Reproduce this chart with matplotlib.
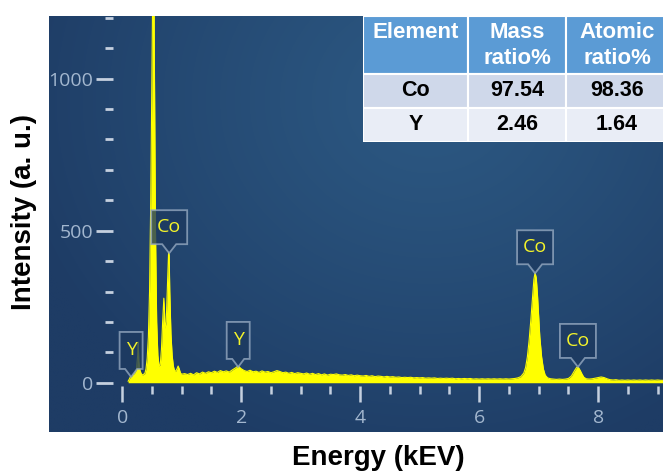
import numpy as np
import matplotlib
matplotlib.use("Agg")
import matplotlib.pyplot as plt
from matplotlib.patches import Polygon, Rectangle
from matplotlib.transforms import ScaledTranslation
from matplotlib.ticker import FixedLocator

# ---------------- data ----------------
energy = [0.10, 0.12, 0.14, 0.16, 0.18, 0.20, 0.22, 0.24, 0.26, 0.27, 0.28, 0.30,
          0.32, 0.34, 0.36, 0.38, 0.40, 0.42, 0.44, 0.46, 0.48, 0.50, 0.52, 0.53,
          0.54, 0.56, 0.58, 0.60, 0.62, 0.64, 0.66, 0.68, 0.70, 0.71, 0.72, 0.74,
          0.76, 0.78, 0.79, 0.80, 0.82, 0.84, 0.86, 0.88, 0.90, 0.92, 0.94, 0.96,
          0.98, 1.00, 1.05, 1.10, 1.15, 1.20, 1.25, 1.30, 1.35, 1.40, 1.45, 1.50,
          1.55, 1.60, 1.65, 1.70, 1.75, 1.80, 1.85, 1.90, 1.95, 2.00, 2.05, 2.10,
          2.15, 2.20, 2.25, 2.30, 2.35, 2.40, 2.45, 2.50, 2.55, 2.60, 2.65, 2.70,
          2.75, 2.80, 2.85, 2.90, 2.95, 3.00, 3.05, 3.10, 3.15, 3.20, 3.25, 3.30,
          3.35, 3.40, 3.45, 3.50, 3.55, 3.60, 3.65, 3.70, 3.75, 3.80, 3.85, 3.90,
          3.95, 4.00, 4.05, 4.10, 4.15, 4.20, 4.25, 4.30, 4.35, 4.40, 4.45, 4.50,
          4.55, 4.60, 4.65, 4.70, 4.75, 4.80, 4.85, 4.90, 4.95, 5.00, 5.05, 5.10,
          5.15, 5.20, 5.25, 5.30, 5.35, 5.40, 5.45, 5.50, 5.55, 5.60, 5.65, 5.70,
          5.75, 5.80, 5.85, 5.90, 5.95, 6.00, 6.05, 6.10, 6.15, 6.20, 6.25, 6.30,
          6.35, 6.40, 6.45, 6.50, 6.55, 6.60, 6.65, 6.70, 6.75, 6.78, 6.81, 6.84,
          6.87, 6.90, 6.92, 6.94, 6.96, 6.98, 7.00, 7.02, 7.05, 7.08, 7.11, 7.15,
          7.20, 7.25, 7.30, 7.35, 7.40, 7.45, 7.50, 7.55, 7.58, 7.61, 7.64, 7.67,
          7.70, 7.73, 7.76, 7.80, 7.85, 7.90, 7.95, 8.00, 8.05, 8.10, 8.15, 8.20,
          8.25, 8.30, 8.35, 8.40, 8.45, 8.50, 8.55, 8.60, 8.65, 8.70, 8.75, 8.80,
          8.85, 8.90, 8.95, 9.00, 9.05, 9.10]
intensity = [5, 12, 20, 22, 28, 30, 35, 45, 90, 134, 70, 40,
             30, 25, 28, 30, 45, 80, 150, 300, 600, 1000, 1450, 1500,
             1100, 500, 200, 90, 55, 60, 110, 200, 278, 240, 180, 200,
             320, 430, 420, 300, 160, 90, 55, 40, 38, 45, 55, 45,
             32, 28, 30, 27, 31, 26, 33, 29, 35, 31, 36, 33,
             38, 34, 40, 36, 39, 35, 42, 48, 55, 46, 40, 37,
             41, 36, 38, 34, 39, 35, 37, 33, 36, 40, 37, 33,
             35, 31, 34, 30, 33, 31, 29, 32, 28, 31, 27, 30,
             26, 29, 25, 28, 27, 29, 26, 25, 27, 24, 26, 23,
             25, 23, 22, 24, 21, 23, 20, 22, 21, 19, 21, 19,
             20, 18, 19, 17, 18, 17, 18, 16, 17, 16, 17, 15,
             16, 15, 16, 14, 15, 14, 15, 14, 15, 13, 14, 13,
             14, 13, 14, 12, 13, 12, 13, 12, 13, 12, 13, 12,
             13, 12, 13, 12, 13, 14, 16, 20, 32, 50, 85, 140,
             210, 290, 340, 362, 345, 290, 220, 150, 85, 45, 25, 16,
             13, 12, 11, 12, 11, 12, 14, 22, 32, 42, 51, 50,
             40, 28, 18, 13, 12, 13, 15, 17, 19, 17, 13, 10,
             9, 10, 8, 9, 8, 9, 8, 9, 8, 9, 8, 9,
             8, 9, 8, 9, 8, 8]

label_text = ["Y", "Co", "Y", "Co", "Co"]
label_energy = [0.15, 0.79, 1.95, 6.94, 7.66]
label_tip = [19, 426, 52, 360, 52]

x_major = [0, 2, 4, 6, 8]
y_major = [0, 500, 1000]

table_header = ["Element", "Mass\nratio%", "Atomic\nratio%"]
table_elements = ["Co", "Y"]
mass_ratio = ["97.54", "2.46"]
atomic_ratio = ["98.36", "1.64"]

# ---------------- figure ----------------
W, H = 663, 472
fig = plt.figure(figsize=(W / 100, H / 100), dpi=100)
fig.patch.set_facecolor("white")
ax = fig.add_axes([49 / W, 40 / H, 614 / W, 416 / H])

# background gradient
yy, xx = np.mgrid[0:1:300j, 0:1:400j]
r = np.sqrt(((xx - 0.62) * 1.3) ** 2 + ((yy - 0.80) * 1.0) ** 2)
t = np.clip(r / 0.9, 0, 1) ** 1.2
inner = np.array([44, 88, 130]) / 255
outer = np.array([30, 60, 101]) / 255
img = inner[None, None, :] * (1 - t[..., None]) + outer[None, None, :] * t[..., None]
ax.imshow(img, extent=[0, 1, 0, 1], transform=ax.transAxes, aspect="auto",
          origin="lower", zorder=0, interpolation="bilinear")

yellow = "#ffff00"
ax.fill_between(energy, intensity, 0, color=yellow, lw=0, zorder=2)
ax.plot(energy, intensity, color=yellow, lw=0.8, zorder=2)

ax.set_xlim(-1.23, 9.09)
ax.set_ylim(-162, 1206)

for s in ax.spines.values():
    s.set_color("none")
ax.spines["left"].set_position(("data", -0.15))
ax.spines["bottom"].set_position(("data", -10))

ax.set_xticks(x_major)
ax.set_yticks(y_major)
ax.xaxis.set_minor_locator(FixedLocator([v for v in np.arange(0.5, 9.01, 0.5) if v % 2 != 0]))
ax.yaxis.set_minor_locator(FixedLocator([v for v in range(100, 1201, 100) if v % 500 != 0]))

tick_c = "#c5d0df"
lab_c = "#a3b7cf"
ax.tick_params(axis="y", which="major", direction="out", length=12.2, width=2.0,
               color=tick_c, labelcolor=lab_c, labelsize=14, pad=2)
ax.tick_params(axis="y", which="minor", direction="out", length=6.1, width=2.0, color=tick_c)
ax.tick_params(axis="x", which="major", direction="out", length=11.6, width=1.8,
               color=tick_c, labelcolor=lab_c, labelsize=14, pad=5)
ax.tick_params(axis="x", which="minor", direction="out", length=5.8, width=1.8, color=tick_c)
for lab in ax.get_xticklabels() + ax.get_yticklabels():
    lab.set_fontfamily("Open Sans")

# callout labels
for txt, e, c in zip(label_text, label_energy, label_tip):
    if txt == "Co":
        w, h, ph, hw = 0.36, 0.34, 0.09, 0.07
    else:
        w, h, ph, hw = 0.23, 0.37, 0.08, 0.06
    tr = fig.dpi_scale_trans + ScaledTranslation(e, c, ax.transData)
    verts = [(0, 0), (hw, ph), (w / 2, ph), (w / 2, ph + h), (-w / 2, ph + h),
             (-w / 2, ph), (-hw, ph)]
    poly = Polygon(verts, closed=True, transform=tr, facecolor="#1d3a60",
                   edgecolor="#94a8c0", lw=1.3, alpha=0.8, zorder=5)
    ax.add_patch(poly)
    ax.text(0, ph + h / 2, txt, transform=tr, ha="center", va="center",
            color="#f4f42a", fontsize=14, family="Open Sans", zorder=6)

# table
tax = fig.add_axes([363 / W, (H - 142) / H, 305 / W, 126 / H])
tax.set_xlim(0, 305)
tax.set_ylim(126, 0)
tax.axis("off")
col_w = [105, 98, 102]
row_h = [58, 34, 34]
row_colors = ["#5b9bd5", "#cfd8ea", "#e9edf6"]
xs = np.cumsum([0] + col_w)
ys = np.cumsum([0] + row_h)
rows = [table_header] + [[a, b, c] for a, b, c in zip(table_elements, mass_ratio, atomic_ratio)]
for i, row in enumerate(rows):
    for j, val in enumerate(row):
        tax.add_patch(Rectangle((xs[j], ys[i]), col_w[j], row_h[i],
                                facecolor=row_colors[i], edgecolor="white", lw=1.5))
        cx = xs[j] + col_w[j] / 2
        if i == 0:
            lines = val.split("\n")
            for k, ln in enumerate(lines):
                tax.text(cx, 17 + 26 * k, ln, ha="center", va="center", color="white",
                         fontsize=16, fontweight="bold", family="Liberation Sans")
        else:
            tax.text(cx, ys[i] + row_h[i] / 2, val, ha="center", va="center", color="black",
                     fontsize=15.5, fontweight="bold", family="Liberation Sans")

fig.text(24 / W, 1 - 212 / H, "Intensity (a. u.)", rotation=90, ha="center", va="center",
         fontsize=20, fontweight="bold", family="Liberation Sans", color="black")
fig.text(378 / W, 1 - 458 / H, "Energy (kEV)", ha="center", va="center",
         fontsize=20, fontweight="bold", family="Liberation Sans", color="black")

fig.savefig("out.png", dpi=100)
